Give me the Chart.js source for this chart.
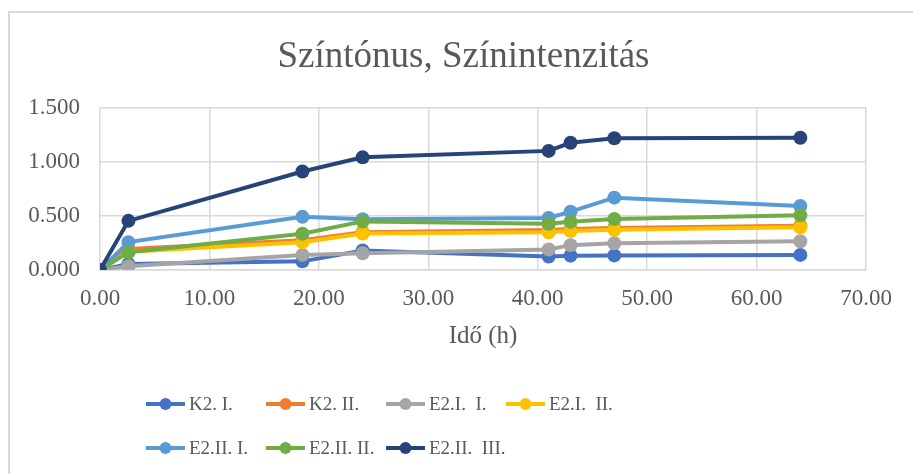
<!DOCTYPE html>
<html>
<head>
<meta charset="utf-8">
<script src="https://cdn.jsdelivr.net/npm/chart.js@4/dist/chart.umd.min.js"></script>
<style>
  html, body { margin: 0; padding: 0; background: #ffffff; }
  #wrap { width: 913px; height: 474px; position: relative; }
</style>
</head>
<body>
<div id="wrap"><canvas id="chart" width="913" height="474"></canvas></div>
<script>
// Measurement times (h)
const times = [0, 2.6, 18.5, 24, 41, 43, 47, 64];

// Series labels, colours and values
const seriesNames = ['K2. I.', 'K2. II.', 'E2.I.  I.', 'E2.I.  II.', 'E2.II. I.', 'E2.II. II.', 'E2.II.  III.'];
const seriesColors = ['#4472C4', '#ED7D31', '#A5A5A5', '#FFC000', '#5B9BD5', '#70AD47', '#264478'];

const k2I     = [0, 0.055, 0.080, 0.180, 0.125, 0.133, 0.135, 0.140];
const k2II    = [0, 0.195, 0.275, 0.350, 0.370, 0.380, 0.390, 0.410];
const e2I_I   = [0, 0.035, 0.140, 0.155, 0.190, 0.230, 0.247, 0.266];
const e2I_II  = [0, 0.170, 0.258, 0.338, 0.350, 0.360, 0.372, 0.395];
const e2II_I  = [0, 0.258, 0.492, 0.470, 0.482, 0.540, 0.670, 0.592];
const e2II_II = [0, 0.164, 0.335, 0.450, 0.428, 0.447, 0.472, 0.506];
const e2II_III = [0, 0.455, 0.912, 1.043, 1.103, 1.178, 1.220, 1.225];

const seriesValues = [k2I, k2II, e2I_I, e2I_II, e2II_I, e2II_II, e2II_III];

// Axis tick settings
const yTicks = { min: 0, max: 1.5, step: 0.5 };
const xTicks = { min: 0, max: 70, step: 10 };

const chartTitle = 'Színtónus, Színintenzitás';
const xAxisTitle = 'Idő (h)';

const textColor = '#595959';
const gridColor = '#D9D9D9';
const serif = "'Liberation Serif', 'Times New Roman', serif";

const datasets = seriesNames.map((name, i) => ({
  label: name,
  data: times.map((t, j) => ({ x: t, y: seriesValues[i][j] })),
  borderColor: seriesColors[i],
  backgroundColor: seriesColors[i],
  pointBackgroundColor: seriesColors[i],
  pointBorderColor: seriesColors[i],
  borderWidth: 4,
  pointRadius: 7,
  pointBorderWidth: 0,
  tension: 0,
  // later series are painted above earlier ones
  order: seriesNames.length - i
}));

// Outer frame and chart heading
const framePlugin = {
  id: 'frame',
  beforeDraw(chart) {
    const ctx = chart.ctx;
    ctx.save();
    ctx.fillStyle = '#ffffff';
    ctx.fillRect(0, 0, chart.width, chart.height);
    ctx.strokeStyle = gridColor;
    ctx.lineWidth = 2;
    ctx.strokeRect(9, 12, chart.width + 10, chart.height + 10);
    ctx.fillStyle = textColor;
    ctx.font = "37px " + serif;
    ctx.textAlign = 'center';
    ctx.textBaseline = 'alphabetic';
    ctx.fillText(chartTitle, 463.5, 67);
    ctx.restore();
  }
};

// Legend laid out in fixed-width columns, two rows
const gridLegendPlugin = {
  id: 'gridLegend',
  afterDraw(chart) {
    const ctx = chart.ctx;
    const cols = 4, colW = 120, left = 146, rowY = [404, 448];
    ctx.save();
    ctx.font = "19px " + serif;
    ctx.textBaseline = 'middle';
    ctx.textAlign = 'left';
    chart.data.datasets.forEach((ds, i) => {
      const x = left + (i % cols) * colW;
      const y = rowY[Math.floor(i / cols)];
      ctx.strokeStyle = ds.borderColor;
      ctx.lineWidth = 4;
      ctx.beginPath();
      ctx.moveTo(x, y);
      ctx.lineTo(x + 39, y);
      ctx.stroke();
      ctx.fillStyle = ds.borderColor;
      ctx.beginPath();
      ctx.arc(x + 19.5, y, 6, 0, Math.PI * 2);
      ctx.fill();
      ctx.fillStyle = textColor;
      ctx.fillText(ds.label, x + 43, y + 1);
    });
    ctx.restore();
  }
};

new Chart(document.getElementById('chart'), {
  type: 'line',
  data: { datasets },
  plugins: [framePlugin, gridLegendPlugin],
  options: {
    responsive: false,
    animation: false,
    layout: { padding: { top: 108, left: 0, right: 47, bottom: 121 } },
    plugins: {
      legend: { display: false },
      tooltip: { enabled: false },
      title: { display: false }
    },
    scales: {
      x: {
        type: 'linear',
        min: xTicks.min,
        max: xTicks.max,
        afterFit(scale) { scale.height = 83; },
        ticks: {
          stepSize: xTicks.step,
          color: textColor,
          font: { family: serif, size: 23 },
          padding: 15,
          maxRotation: 0,
          callback: v => v.toFixed(2)
        },
        grid: { color: gridColor, lineWidth: 1.5, drawTicks: false },
        border: { color: gridColor, width: 1.5 },
        title: {
          display: true,
          text: xAxisTitle,
          color: textColor,
          font: { family: serif, size: 25 },
          padding: { top: 0, bottom: 2 }
        }
      },
      y: {
        type: 'linear',
        min: yTicks.min,
        max: yTicks.max,
        afterFit(scale) { scale.width = 100; },
        ticks: {
          stepSize: yTicks.step,
          color: textColor,
          font: { family: serif, size: 23 },
          padding: 20,
          callback: v => v.toFixed(3)
        },
        grid: { color: gridColor, lineWidth: 1.5, drawTicks: false },
        border: { display: false }
      }
    }
  }
});
</script>
</body>
</html>
